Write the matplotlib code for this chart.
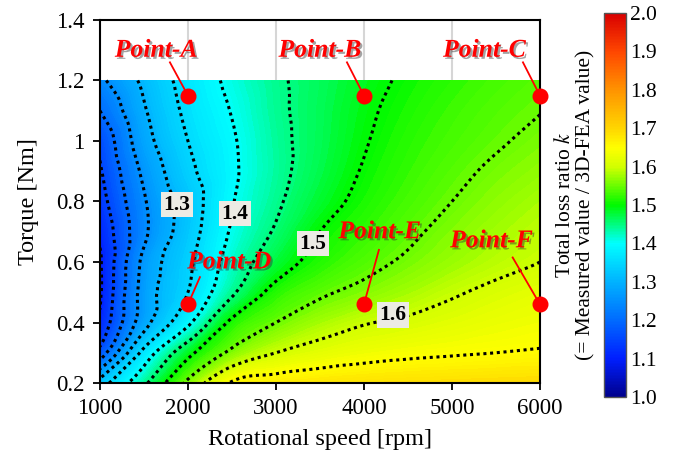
import numpy as np
import matplotlib
matplotlib.use("Agg")
import matplotlib.pyplot as plt
import matplotlib.tri as mtri
import matplotlib.patheffects as pe
from matplotlib.colors import LinearSegmentedColormap, Normalize
from matplotlib.cm import ScalarMappable
from matplotlib.ticker import FormatStrFormatter

plt.rcParams['font.family'] = 'Liberation Serif'
plt.rcParams['mathtext.fontset'] = 'stix'

# measured operating map
speed = [1000, 1500, 2000, 2500, 3000, 3500, 4000, 4500, 5000, 5500, 6000]
torque = [0.2, 0.3, 0.4, 0.5, 0.6, 0.7, 0.8, 0.9, 1.0, 1.1, 1.2]
# total loss ratio k, one row per torque value
k_ratio = [
    [1.32, 1.44, 1.56, 1.655, 1.672, 1.68, 1.685, 1.688, 1.69, 1.692, 1.694],
    [1.17, 1.365, 1.485, 1.56, 1.60, 1.62, 1.633, 1.641, 1.646, 1.65, 1.654],
    [1.11, 1.28, 1.39, 1.51, 1.55, 1.578, 1.597, 1.607, 1.618, 1.628, 1.635],
    [1.095, 1.27, 1.35, 1.442, 1.515, 1.543, 1.561, 1.578, 1.595, 1.609, 1.62],
    [1.095, 1.262, 1.34, 1.42, 1.477, 1.515, 1.538, 1.556, 1.573, 1.588, 1.60],
    [1.11, 1.24, 1.327, 1.405, 1.455, 1.50, 1.523, 1.543, 1.561, 1.577, 1.59],
    [1.13, 1.245, 1.323, 1.397, 1.443, 1.482, 1.511, 1.532, 1.55, 1.566, 1.58],
    [1.145, 1.26, 1.338, 1.392, 1.437, 1.472, 1.503, 1.524, 1.541, 1.556, 1.568],
    [1.16, 1.28, 1.35, 1.395, 1.438, 1.468, 1.497, 1.518, 1.533, 1.546, 1.558],
    [1.20, 1.295, 1.36, 1.402, 1.441, 1.467, 1.493, 1.512, 1.527, 1.539, 1.549],
    [1.24, 1.31, 1.368, 1.41, 1.443, 1.465, 1.488, 1.506, 1.52, 1.532, 1.542],
]
contour_levels = [1.1, 1.15, 1.2, 1.25, 1.3, 1.35, 1.4, 1.45, 1.5, 1.55, 1.6, 1.65]
labelled_levels = [1.3, 1.4, 1.5, 1.6]

point_names = ['Point-A', 'Point-B', 'Point-C', 'Point-D', 'Point-E', 'Point-F']
point_speed = [2000, 4000, 6000, 2000, 4000, 6000]
point_torque = [1.15, 1.15, 1.15, 0.46, 0.46, 0.46]

# where the point names, leader lines and level labels go
name_xy = [(1640, 1.30), (3500, 1.30), (5370, 1.30), (2470, 0.60), (4180, 0.70), (5450, 0.67)]
leader_xy = [(1795, 1.26), (3807, 1.26), (5807, 1.26), (2136, 0.55), (4170, 0.64), (5690, 0.615)]
level_label_xy = [(1875, 0.79), (2530, 0.76), (3420, 0.66), (4330, 0.425)]

cmap = LinearSegmentedColormap.from_list('loss', [
    (0.00, (0.00, 0.00, 0.55)),
    (0.10, (0.00, 0.12, 1.00)),
    (0.20, (0.00, 0.42, 1.00)),
    (0.30, (0.00, 0.70, 1.00)),
    (0.40, (0.00, 1.00, 1.00)),
    (0.50, (0.00, 0.98, 0.00)),
    (0.60, (0.82, 1.00, 0.00)),
    (0.65, (1.00, 1.00, 0.00)),
    (0.70, (1.00, 0.84, 0.00)),
    (0.80, (1.00, 0.58, 0.00)),
    (0.90, (1.00, 0.28, 0.00)),
    (1.00, (0.85, 0.00, 0.00)),
])
norm = Normalize(1.0, 2.0)

# grid cells split into triangles with the same diagonal everywhere,
# then smoothed with a cubic refinement
ns, nt = len(speed), len(torque)
S, T = np.meshgrid(speed, torque)
cells = []
for j in range(nt - 1):
    for i in range(ns - 1):
        a = j * ns + i
        cells.append([a, a + 1, a + ns + 1])
        cells.append([a, a + ns + 1, a + ns])
tri = mtri.Triangulation(S.ravel() / 1000.0, T.ravel() * 4.0, cells)
interp = mtri.CubicTriInterpolator(tri, np.array(k_ratio).ravel(), kind='geom')
refiner = mtri.UniformTriRefiner(tri)
tri_fine, k_fine = refiner.refine_field(np.array(k_ratio).ravel(), triinterpolator=interp,
                                        subdiv=5)
tri_fine = mtri.Triangulation(tri_fine.x * 1000.0, tri_fine.y / 4.0, tri_fine.triangles)

fig = plt.figure(figsize=(6.88, 4.66), dpi=100)
ax = fig.add_axes([0.1453, 0.1781, 0.6395, 0.779])
cax = fig.add_axes([0.878, 0.148, 0.032, 0.824])

ax.tricontourf(tri_fine, k_fine, levels=np.linspace(1.0, 2.0, 201), cmap=cmap, norm=norm)
cs = ax.tricontour(tri_fine, k_fine, levels=contour_levels, colors='black',
                   linewidths=2.2, linestyles=[(0, (1, 1.2))])
for lev, (lx, ly) in zip(labelled_levels, level_label_xy):
    ax.text(lx, ly, f'{lev:.1f}', fontsize=15.5, fontweight='bold', ha='center', va='center',
            zorder=4, bbox=dict(facecolor='#ecebe4', edgecolor='none', pad=1.8))

shadow = [pe.withSimplePatchShadow(offset=(1.5, -1.5), shadow_rgbFace='0.2', alpha=0.45)]
for name, sx, ty, (nx, ny), (lx, ly) in zip(point_names, point_speed, point_torque,
                                            name_xy, leader_xy):
    ax.plot([lx, sx], [ly, ty], color='red', lw=1.3, zorder=5)
    ax.plot(sx, ty, 'o', color='red', ms=10.5, zorder=6, clip_on=False)
    ax.text(nx, ny, name, color='red', fontsize=18.5, fontweight='bold', style='italic',
            ha='center', va='center', zorder=7, path_effects=shadow)

ax.set_xlim(1000, 6000)
ax.set_ylim(0.2, 1.4)
ax.set_xticks([1000, 2000, 3000, 4000, 5000, 6000])
ax.set_yticks([0.2, 0.4, 0.6, 0.8, 1.0, 1.2, 1.4])
ax.yaxis.set_major_formatter(FormatStrFormatter('%g'))
ax.grid(axis='x', color='#d6d6d6', lw=1.5)
ax.set_axisbelow(True)
ax.tick_params(direction='out', length=5, width=1.3, labelsize=16.5, pad=6)
for sp in ax.spines.values():
    sp.set_linewidth(1.5)
ax.set_xlabel('Rotational speed [rpm]', fontsize=17.5, labelpad=7)
ax.set_ylabel('Torque [Nm]', fontsize=17.5, labelpad=12)

cb = fig.colorbar(ScalarMappable(norm=norm, cmap=cmap), cax=cax)
cb.set_ticks(np.arange(1.0, 2.01, 0.1))
cb.ax.yaxis.set_major_formatter(FormatStrFormatter('%.1f'))
cb.ax.tick_params(length=0, labelsize=15.5, pad=3)
cb.outline.set_edgecolor('#555555')
cb.outline.set_linewidth(1.0)
cb.ax.yaxis.set_label_position('left')
cb.set_label('Total loss ratio $k$\n(= Measured value / 3D-FEA value)', fontsize=15.5,
             labelpad=6, linespacing=1.1)

fig.savefig('out.png', dpi=100)
